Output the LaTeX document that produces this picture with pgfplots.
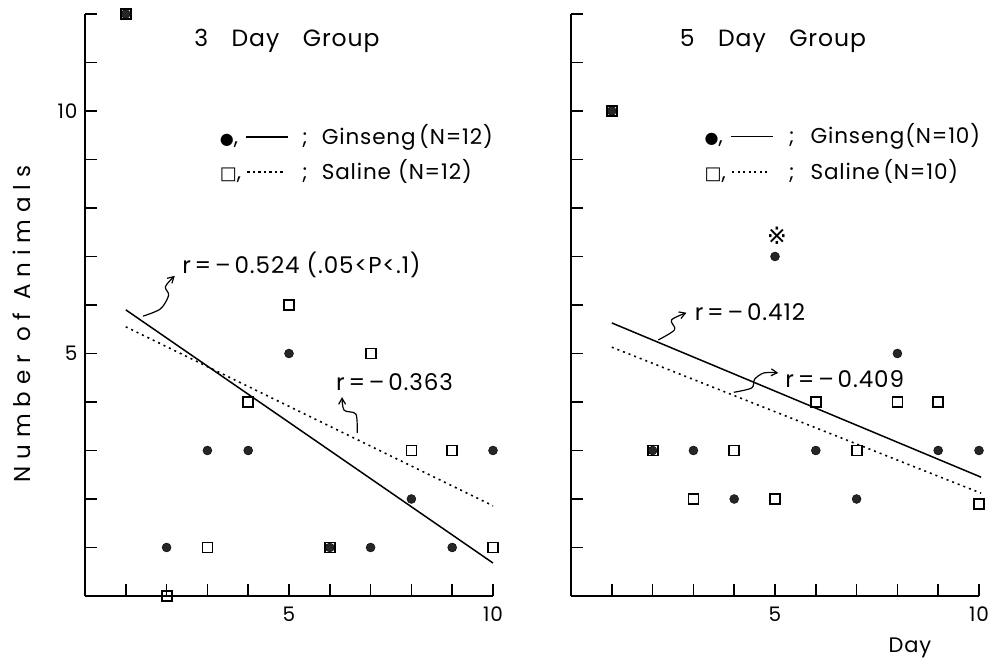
\documentclass[border=0pt]{standalone}
\usepackage{pgfplots}
\pgfplotsset{compat=1.18}
\usepackage{fontspec}
\setmainfont{Poppins}[LetterSpace=4]
\newfontfamily\widefont{Poppins}[LetterSpace=30]
\newfontfamily\sym{DejaVu Sans}
\usetikzlibrary{arrows.meta}

\newcommand\tlab[1]{\hbox{\fontsize{20}{20}\selectfont #1}}
\newcommand\solidsample{\raisebox{0.3em}{\rule{42pt}{1.4pt}}}
\newcommand\dotsample{\raisebox{0.3em}{\hbox to 42pt{\leaders\hbox to 5.5pt{\hss\rule{2.2pt}{1.3pt}\hss}\hfill}}}
\newcommand\bul{{\sym\fontsize{16}{16}\selectfont●}}
\newcommand\sq{{\sym\fontsize{18}{18}\selectfont□}}

\pgfplotsset{
  panel/.style={
    scale only axis, width=408pt, height=582pt,
    xmin=0, xmax=10, ymin=0, ymax=12,
    axis x line*=bottom, axis y line*=left,
    axis line style={line width=1.6pt, -},
    xtick={1,...,10}, ytick={1,...,12},
    xticklabels={,,,,\tlab{5},,,,,\tlab{10}},
    tick align=inside, major tick length=12pt,
    every tick/.style={line width=1.6pt, black},
    xticklabel style={yshift=-7pt},
    yticklabel style={xshift=-4pt},
    clip=false,
  },
  ginseng/.style={only marks, mark=*, mark size=4.5pt,
    mark options={draw=black, fill=black!85}},
  saline/.style={only marks, mark=square, mark size=5pt,
    mark options={draw=black, fill=white, line width=1.8pt}},
  fitsolid/.style={black, line width=1.5pt},
  fitdot/.style={black, line width=1.6pt, dash pattern=on 2pt off 4pt},
}
\tikzset{
  note/.style={font=\fontsize{23}{23}\selectfont, anchor=west, inner sep=0pt},
  leg/.style={font=\fontsize{21.5}{21.5}\selectfont, anchor=west, inner sep=0pt},
  ttl/.style={font=\fontsize{23.5}{23.5}\selectfont},
  curl/.style={-{Straight Barb[length=6pt,width=7pt]}, line width=1.2pt},
}

\begin{document}
\begin{tikzpicture}
\path[use as bounding box] (0,0) rectangle (993pt,661pt);

% 3 day group
\begin{axis}[panel, at={(85pt,65pt)}, anchor=south west,
  yticklabels={,,,,\tlab{5},,,,,\tlab{10},,}]
  \addplot[saline] coordinates {(1,12) (2,0) (3,1) (4,4) (5,6) (6,1) (7,5) (8,3) (9,3) (10,1)};
  \addplot[ginseng] coordinates {(1,12) (2,1) (3,3) (4,3) (5,5) (6,1) (7,1) (8,2) (9,1) (10,3)};
  \addplot[fitsolid] coordinates {(1,5.9) (10,0.68)};
  \addplot[fitdot] coordinates {(1,5.55) (10,1.86)};

  \node[ttl] at (axis cs:4.95,11.44) {3\hspace{1em}Day\hspace{1em}Group};
  \node[leg] at (axis cs:3.3,9.46) {\makebox[26pt][l]{\bul,}\solidsample\makebox[34pt][c]{;}Ginseng\,(N=12)};
  \node[leg] at (axis cs:3.3,8.76) {\makebox[26pt][l]{\sq,}\dotsample\makebox[34pt][c]{;}Saline\,\,(N=12)};

  \node[note] at (axis cs:2.38,6.82) {r\,=\,–\,0.524 (.05<P<.1)};
  \draw[curl] plot[smooth] coordinates {(1.42,5.77) (1.85,5.92) (2.05,6.2) (1.97,6.38) (2.2,6.6)};
  \node[note] at (axis cs:6.15,4.41) {r\,=\,–\,0.363};
  \draw[curl] plot[smooth] coordinates {(6.67,3.36) (6.64,3.75) (6.35,3.83) (6.3,4.1)};
\end{axis}

% 5 day group
\begin{axis}[panel, at={(571pt,65pt)}, anchor=south west, yticklabels={}]
  \addplot[saline] coordinates {(1,10) (2,3) (3,2) (4,3) (5,2) (6,4) (7,3) (8,4) (9,4) (10,1.9)};
  \addplot[ginseng] coordinates {(1,10) (2,3) (3,3) (4,2) (5,7) (6,3) (7,2) (8,5) (9,3) (10,3)};
  \addplot[fitsolid] coordinates {(1,5.63) (10.05,2.45)};
  \addplot[fitdot] coordinates {(1,5.13) (10.05,2.12)};

  \node[ttl] at (axis cs:4.95,11.44) {5\hspace{1em}Day\hspace{1em}Group};
  \node[leg] at (axis cs:3.27,9.48) {\makebox[26pt][l]{\bul,}\solidsample\makebox[38pt][c]{;}Ginseng(N=10)};
  \node[leg] at (axis cs:3.27,8.76) {\makebox[26pt][l]{\sq,}\dotsample\makebox[38pt][c]{;}Saline\,(N=10)};

  \node[font={\sym\fontsize{24}{24}\selectfont}] at (axis cs:5.05,7.42) {※};

  \node[note] at (axis cs:3.03,5.86) {r\,=\,–\,0.412};
  \draw[curl] plot[smooth] coordinates {(2.14,5.28) (2.54,5.49) (2.46,5.69) (2.83,5.84)};
  \node[note] at (axis cs:5.25,4.47) {r\,=\,–\,0.409};
  \draw[curl] plot[smooth] coordinates {(3.99,4.2) (4.43,4.29) (4.5,4.47) (4.73,4.6) (5.08,4.6)};
\end{axis}

\node[rotate=90, font=\widefont\fontsize{23}{23}\selectfont] at (22pt,337pt) {Number of Animals};
\node[font=\fontsize{21}{21}\selectfont] at (910pt,13pt) {Day};
\end{tikzpicture}
\end{document}
